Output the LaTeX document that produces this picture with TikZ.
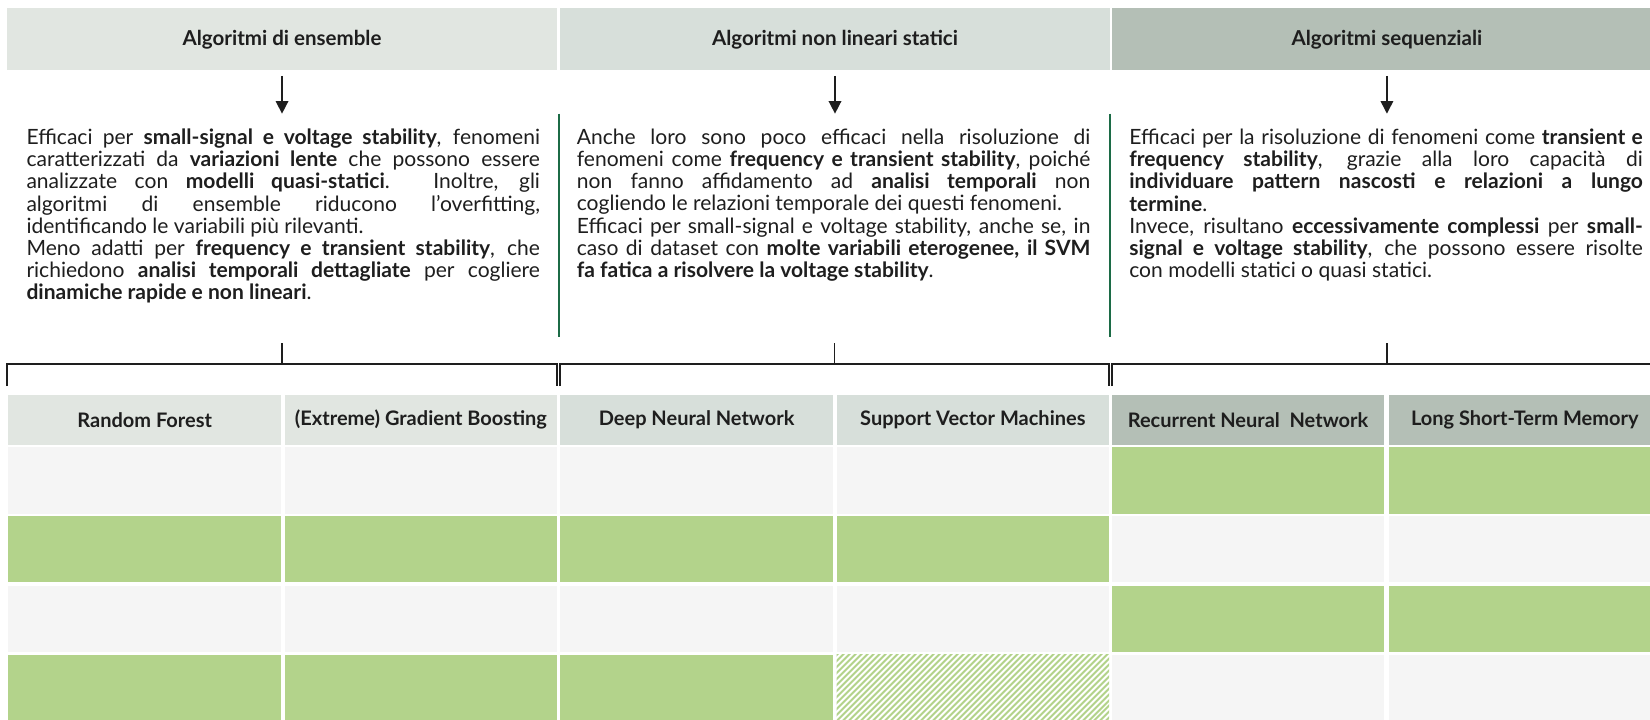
\documentclass[tikz,border=0pt]{standalone}
\usepackage{fontspec}
\setmainfont{Lato}
\usetikzlibrary{positioning,arrows.meta,patterns.meta}
\definecolor{hdone}{HTML}{E1E6E1}
\definecolor{hdtwo}{HTML}{D7DFDA}
\definecolor{hdthree}{HTML}{B4BFB6}
\definecolor{cellgray}{HTML}{F5F5F5}
\definecolor{cellgreen}{HTML}{B3D38B}
\definecolor{bargreen}{HTML}{1C6B46}
\definecolor{ink}{HTML}{1E1E1E}
\tikzset{
  head/.style={fill=#1,minimum width=522pt,minimum height=59pt,inner sep=0pt,text=ink,
    font=\bfseries\fontsize{19.5}{22}\selectfont},
  desc/.style={anchor=north west,text width=488pt,inner sep=0pt,align=justify,text=ink,
    font=\fontsize{20}{21}\selectfont},
  colhead/.style={fill=#1,minimum width=259pt,minimum height=48pt,inner sep=0pt,text=ink,
    font=\bfseries\fontsize{19}{22}\selectfont},
  cell/.style={fill=#1,minimum width=259pt,minimum height=63pt,inner sep=0pt},
  hatched/.style={minimum width=259pt,minimum height=63pt,inner sep=0pt,
    pattern={Lines[angle=45,distance=4pt,line width=2pt]},pattern color=cellgreen},
  arr/.style={draw=ink,line width=1.4pt,shorten <=5pt,-{Triangle[length=12pt,width=12pt]}},
  brace/.style={draw=ink,line width=1.8pt},
  sep/.style={draw=bargreen,line width=2.2pt}
}
\begin{document}
\begin{tikzpicture}[x=1pt,y=-1pt]
  \fill[white] (0,0) rectangle (1568,684);
  \useasboundingbox (0,0) rectangle (1568,684);

  \node[head=hdone] (hA) at (268,37.5) {Algoritmi di ensemble};
  \node[head=hdtwo] (hB) at (793.5,37.5) {Algoritmi non lineari statici};
  \node[head=hdthree] (hC) at (1318,37.5) {Algoritmi sequenziali};

  \coordinate (aA) at (268,108);
  \coordinate (aB) at (793.5,108);
  \coordinate (aC) at (1318,108);
  \draw[arr] (hA) -- (aA);
  \draw[arr] (hB) -- (aB);
  \draw[arr] (hC) -- (aC);

  \node[desc] (tA) at (25,122.5) {Efficaci per \textbf{small-signal e voltage stability}, fenomeni\linebreak
    caratterizzati da \textbf{variazioni lente} che possono essere\linebreak
    analizzate con \textbf{modelli quasi-statici}. Inoltre, gli\linebreak
    algoritmi di ensemble riducono l’overfitting,\linebreak
    identificando le variabili più rilevanti.\\
    Meno adatti per \textbf{frequency e transient stability}, che\linebreak
    richiedono \textbf{analisi temporali dettagliate} per cogliere\linebreak
    \textbf{dinamiche rapide e non lineari}.};
  \node[desc] (tB) at (548,122.5) {Anche loro sono poco efficaci nella risoluzione di\linebreak
    fenomeni come \textbf{frequency e transient stability}, poiché\linebreak
    non fanno affidamento ad \textbf{analisi temporali} non\linebreak
    cogliendo le relazioni temporale dei questi fenomeni.\\
    Efficaci per small-signal e voltage stability, anche se, in\linebreak
    caso di dataset con \textbf{molte variabili eterogenee, il SVM}\linebreak
    \textbf{fa fatica a risolvere la voltage stability}.};
  \node[desc] (tC) at (1073,122.5) {Efficaci per la risoluzione di fenomeni come \textbf{transient e}\linebreak
    \textbf{frequency stability}, grazie alla loro capacità di\linebreak
    \textbf{individuare pattern nascosti e relazioni a lungo}\linebreak
    \textbf{termine}.\\
    Invece, risultano \textbf{eccessivamente complessi} per \textbf{small-}\linebreak
    \textbf{signal e voltage stability}, che possono essere risolte\linebreak
    con modelli statici o quasi statici.};

  \coordinate (gB1) at (531,108);
  \coordinate (gB2) at (531,320);
  \coordinate (gC1) at (1055,108);
  \coordinate (gC2) at (1055,320);
  \draw[sep] (gB1) -- (gB2);
  \draw[sep] (gC1) -- (gC2);

  \coordinate (sA) at (268,326);  \coordinate (kA) at (268,346);
  \coordinate (lA) at (7,367);    \coordinate (rA) at (529,367);
  \coordinate (sB) at (793,326);  \coordinate (kB) at (793,346);
  \coordinate (lB) at (532.5,367);  \coordinate (rB) at (1053.5,367);
  \coordinate (sC) at (1318,326); \coordinate (kC) at (1318,346);
  \coordinate (lC) at (1057,367); \coordinate (rC) at (1579,367);
  \draw[brace] (sA) -- (kA);
  \draw[brace] (lA) |- (kA) -| (rA);
  \draw[brace] (sB) -- (kB);
  \draw[brace] (lB) |- (kB) -| (rB);
  \draw[brace] (sC) -- (kC);
  \draw[brace] (lC) |- (kC) -| (rC);

  \node[colhead=hdone] (rf) at (137.5,399) {Random Forest};
  \node[colhead=hdone] (gb) at (400,399) {(Extreme) Gradient Boosting};
  \node[colhead=hdtwo] (dnn) at (662,399) {Deep Neural Network};
  \node[colhead=hdtwo] (svm) at (924.5,399) {Support Vector Machines};
  \node[colhead=hdthree] (rnn) at (1186,399) {Recurrent Neural~ Network};
  \node[colhead=hdthree] (lstm) at (1449,399) {Long Short-Term Memory};

  \node[cell=cellgray] (rf1) at (137.5,456.5) {};
  \node[cell=cellgray] (gb1) at (400,456.5) {};
  \node[cell=cellgray] (dnn1) at (662,456.5) {};
  \node[cell=cellgray] (svm1) at (924.5,456.5) {};
  \node[cell=cellgreen] (rnn1) at (1186,456.5) {};
  \node[cell=cellgreen] (lstm1) at (1449,456.5) {};

  \node[cell=cellgreen] (rf2) at (137.5,522) {};
  \node[cell=cellgreen] (gb2) at (400,522) {};
  \node[cell=cellgreen] (dnn2) at (662,522) {};
  \node[cell=cellgreen] (svm2) at (924.5,522) {};
  \node[cell=cellgray] (rnn2) at (1186,522) {};
  \node[cell=cellgray] (lstm2) at (1449,522) {};

  \node[cell=cellgray] (rf3) at (137.5,588) {};
  \node[cell=cellgray] (gb3) at (400,588) {};
  \node[cell=cellgray] (dnn3) at (662,588) {};
  \node[cell=cellgray] (svm3) at (924.5,588) {};
  \node[cell=cellgreen] (rnn3) at (1186,588) {};
  \node[cell=cellgreen] (lstm3) at (1449,588) {};

  \node[cell=cellgreen] (rf4) at (137.5,653.5) {};
  \node[cell=cellgreen] (gb4) at (400,653.5) {};
  \node[cell=cellgreen] (dnn4) at (662,653.5) {};
  \node[hatched] (svm4) at (924.5,653.5) {};
  \node[cell=cellgray] (rnn4) at (1186,653.5) {};
  \node[cell=cellgray] (lstm4) at (1449,653.5) {};
\end{tikzpicture}
\end{document}
